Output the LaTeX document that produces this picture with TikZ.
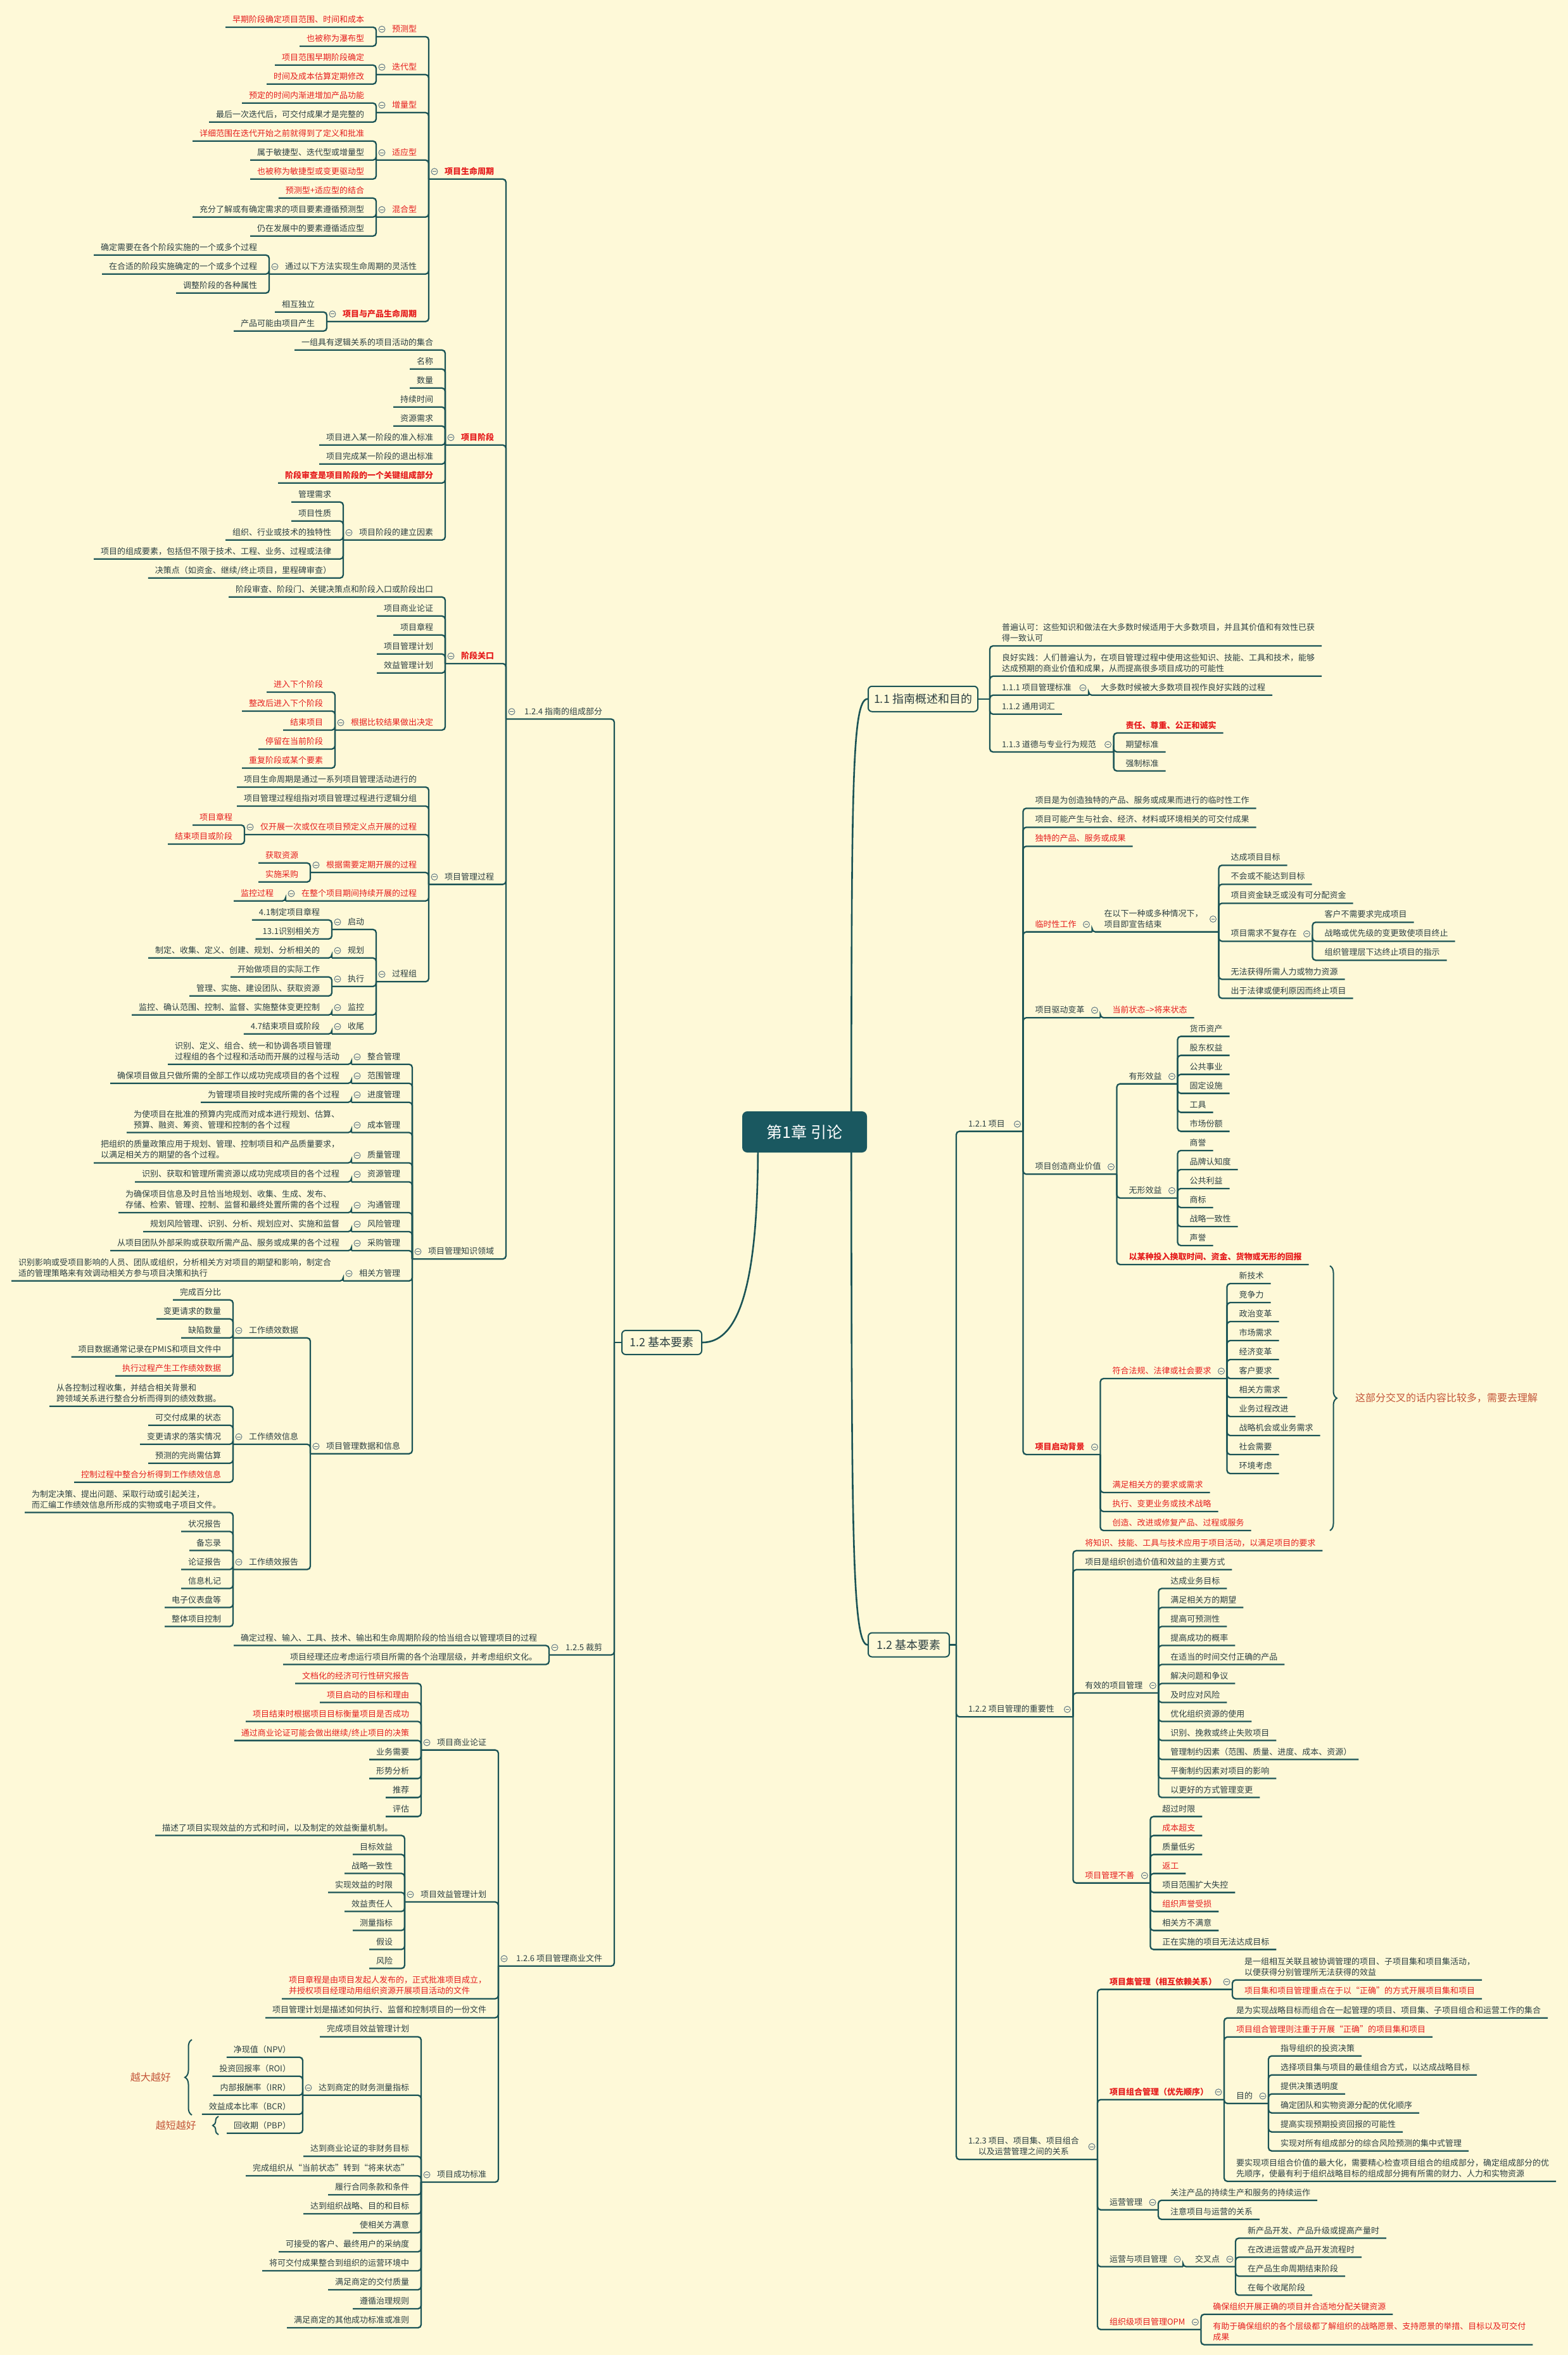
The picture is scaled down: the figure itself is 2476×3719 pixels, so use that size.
\documentclass[tikz,border=0pt]{standalone}
\usepackage{fontspec}
\setmainfont{Noto Sans CJK SC}
\usetikzlibrary{decorations.pathreplacing}
\definecolor{bgc}{RGB}{254,249,216}
\definecolor{lnc}{RGB}{27,84,86}
\definecolor{dkc}{RGB}{44,64,66}
\definecolor{rdc}{RGB}{230,30,30}
\definecolor{brc}{RGB}{196,86,58}
\definecolor{icc}{RGB}{86,112,128}
\definecolor{ctc}{RGB}{26,88,96}
\newcommand\mmst{\rule[-2.5pt]{0pt}{11pt}}
\tikzset{
 tx/.style={inner sep=0pt,outer sep=0pt,text=dkc,align=left,font=\fontsize{13}{17}\selectfont},
 rt/.style={text=rdc},
 rbt/.style={text=rdc,font=\fontsize{13}{17}\selectfont\bfseries},
 mmbar/.style={draw=lnc,line width=2.3pt,rounded corners=5pt},
 cbar/.style={draw=lnc,line width=2.6pt},
 icn/.style={draw=icc,line width=0.9pt},
 box/.style={draw=lnc,line width=2pt,rounded corners=6pt,fill=bgc,text=dkc,inner sep=0pt,font=\fontsize{18}{20}\selectfont},
 ctr/.style={fill=ctc,rounded corners=8pt,text=white,inner sep=0pt,minimum width=197pt,minimum height=65pt,font=\fontsize{25}{28}\selectfont},
 brcst/.style={draw=lnc,line width=2pt,decorate},
 brtx/.style={text=brc,inner sep=0pt,font=\fontsize{16}{18}\selectfont}
}
\newcommand\mmicon[3]{\path (#1 |- #2.center) ++(#3,0) coordinate (icp);
 \draw[icn] (icp) circle (5); \draw[icn] ([xshift=-2.6pt]icp) -- ([xshift=2.6pt]icp);}
% left leaf
\newcommand\lleaf[5]{\coordinate (ty) at (0,#3);
 \path (#2S |- ty) ++(-19,-5) node[tx,#4,anchor=south east] (#1) {#5\mmst};
 \path (#1.south west) ++(-11,5) coordinate (#1S);
 \draw[mmbar] (#2S) |- (#1S);}
% left inner
\newcommand\linner[5]{\coordinate (ty) at (0,#3);
 \path (#2S |- ty) ++(-19,-5) node[tx,#4,anchor=south east] (#1) {#5\mmst};
 \path (#1.south west) ++(-25,5) coordinate (#1S);
 \draw[mmbar] (#2S) |- (#1S);
 \mmicon{#1S}{#1}{9}}
\newcommand\linnerx[6]{\coordinate (ty) at (0,#3);
 \path (#2S |- ty) ++(-19,-5) node[tx,#4,anchor=south east] (#1) {#5\mmst};
 \coordinate (#1S) at (#6,#3);
 \draw[mmbar] (#2S) |- (#1S);
 \mmicon{#1S}{#1}{9}}
% right leaf
\newcommand\rleaf[5]{\coordinate (ty) at (0,#3);
 \path (#2S |- ty) ++(19,-5) node[tx,#4,anchor=south west] (#1) {#5\mmst};
 \path (#1.south east) ++(11,5) coordinate (#1S);
 \draw[mmbar] (#2S) |- (#1S);}
\newcommand\rinner[5]{\coordinate (ty) at (0,#3);
 \path (#2S |- ty) ++(19,-5) node[tx,#4,anchor=south west] (#1) {#5\mmst};
 \path (#1.south east) ++(25,5) coordinate (#1S);
 \draw[mmbar] (#2S) |- (#1S);
 \mmicon{#1S}{#1}{-9}}
\newcommand\rinnerx[6]{\coordinate (ty) at (0,#3);
 \path (#2S |- ty) ++(19,-5) node[tx,#4,anchor=south west] (#1) {#5\mmst};
 \coordinate (#1S) at (#6,#3);
 \draw[mmbar] (#2S) |- (#1S);
 \mmicon{#1S}{#1}{-9}}
\begin{document}
\begin{tikzpicture}[x=1pt,y=-1pt]
\useasboundingbox (0,0) rectangle (2476,3719);
\fill[bgc] (0,0) rectangle (2476,3719);

% ---------- central and boxes ----------
\node[ctr] (cen) at (1270.5,1787.5) {第1章 引论};
\node[box,minimum width=173pt,minimum height=40pt] (g) at (1457.5,1103.75) {1.1 指南概述和目的};
\node[box,minimum width=128pt,minimum height=38pt] (rr) at (1435,2597.5) {1.2 基本要素};
\node[box,minimum width=126pt,minimum height=38pt] (ll) at (1045,2120) {1.2 基本要素};
\coordinate (gS) at (1563,1103.75);
\coordinate (rrS) at (1510,2597.5);
\coordinate (llS) at (970,2120);
\draw[mmbar] (g.east) -- (gS);
\draw[mmbar] (rr.east) -- (rrS);
\draw[mmbar] (ll.west) -- (llS);
\draw[cbar] ([xshift=-25pt]cen.north east) .. controls (1345,1250) and (1345,1103.75) .. (g.west);
\draw[cbar] ([xshift=-25pt]cen.south east) .. controls (1345,2400) and (1345,2597.5) .. (rr.west);
\draw[cbar] ([xshift=25pt]cen.south west) .. controls (1196,2050) and (1160,2120) .. (ll.east);

% ---------- LEFT : 1.2.4 ----------
\linnerx{a}{ll}{1135.5}{}{1.2.4 指南的组成部分}{799}
\linner{aa}{a}{282.8}{rbt}{项目生命周期}
 \linner{aaa}{aa}{57.9}{rt}{预测型}
  \lleaf{aaa1}{aaa}{42.9}{rt}{早期阶段确定项目范围、时间和成本}
  \lleaf{aaa2}{aaa}{72.9}{rt}{也被称为瀑布型}
 \linner{aab}{aa}{117.8}{rt}{迭代型}
  \lleaf{aab1}{aab}{102.8}{rt}{项目范围早期阶段确定}
  \lleaf{aab2}{aab}{132.8}{rt}{时间及成本估算定期修改}
 \linner{aac}{aa}{177.8}{rt}{增量型}
  \lleaf{aac1}{aac}{162.8}{rt}{预定的时间内渐进增加产品功能}
  \lleaf{aac2}{aac}{192.8}{}{最后一次迭代后，可交付成果才是完整的}
 \linner{aad}{aa}{252.8}{rt}{适应型}
  \lleaf{aad1}{aad}{222.8}{rt}{详细范围在迭代开始之前就得到了定义和批准}
  \lleaf{aad2}{aad}{252.8}{}{属于敏捷型、迭代型或增量型}
  \lleaf{aad3}{aad}{282.8}{rt}{也被称为敏捷型或变更驱动型}
 \linner{aae}{aa}{342.8}{rt}{混合型}
  \lleaf{aae1}{aae}{312.8}{rt}{预测型+适应型的结合}
  \lleaf{aae2}{aae}{342.8}{}{充分了解或有确定需求的项目要素遵循预测型}
  \lleaf{aae3}{aae}{372.8}{}{仍在发展中的要素遵循适应型}
 \linner{aaf}{aa}{432.8}{}{通过以下方法实现生命周期的灵活性}
  \lleaf{aaf1}{aaf}{402.8}{}{确定需要在各个阶段实施的一个或多个过程}
  \lleaf{aaf2}{aaf}{432.8}{}{在合适的阶段实施确定的一个或多个过程}
  \lleaf{aaf3}{aaf}{462.8}{}{调整阶段的各种属性}
 \linner{aag}{aa}{507.8}{rbt}{项目与产品生命周期}
  \lleaf{aag1}{aag}{492.8}{}{相互独立}
  \lleaf{aag2}{aag}{522.8}{}{产品可能由项目产生}
\linner{ab}{a}{702.8}{rbt}{项目阶段}
 \lleaf{aba}{ab}{552.8}{}{一组具有逻辑关系的项目活动的集合}
 \lleaf{abb}{ab}{582.8}{}{名称}
 \lleaf{abc}{ab}{612.8}{}{数量}
 \lleaf{abd}{ab}{642.8}{}{持续时间}
 \lleaf{abe}{ab}{672.8}{}{资源需求}
 \lleaf{abf}{ab}{702.8}{}{项目进入某一阶段的准入标准}
 \lleaf{abg}{ab}{732.8}{}{项目完成某一阶段的退出标准}
 \lleaf{abh}{ab}{762.8}{rbt}{阶段审查是项目阶段的一个关键组成部分}
 \linner{abi}{ab}{852.8}{}{项目阶段的建立因素}
  \lleaf{abi1}{abi}{792.8}{}{管理需求}
  \lleaf{abi2}{abi}{822.8}{}{项目性质}
  \lleaf{abi3}{abi}{852.8}{}{组织、行业或技术的独特性}
  \lleaf{abi4}{abi}{882.8}{}{项目的组成要素，包括但不限于技术、工程、业务、过程或法律}
  \lleaf{abi5}{abi}{912.8}{}{决策点（如资金、继续/终止项目，里程碑审查）}
\linner{ac}{a}{1047.9}{rbt}{阶段关口}
 \lleaf{aca}{ac}{942.8}{}{阶段审查、阶段门、关键决策点和阶段入口或阶段出口}
 \lleaf{acb}{ac}{972.8}{}{项目商业论证}
 \lleaf{acc}{ac}{1002.8}{}{项目章程}
 \lleaf{acd}{ac}{1032.8}{}{项目管理计划}
 \lleaf{ace}{ac}{1062.8}{}{效益管理计划}
 \linner{acf}{ac}{1152.9}{rt}{根据比较结果做出决定}
  \lleaf{acf1}{acf}{1092.9}{rt}{进入下个阶段}
  \lleaf{acf2}{acf}{1122.9}{rt}{整改后进入下个阶段}
  \lleaf{acf3}{acf}{1152.9}{rt}{结束项目}
  \lleaf{acf4}{acf}{1182.9}{rt}{停留在当前阶段}
  \lleaf{acf5}{acf}{1212.9}{rt}{重复阶段或某个要素}
\linner{ad}{a}{1396.6}{}{项目管理过程}
 \lleaf{ada}{ad}{1242.9}{}{项目生命周期是通过一系列项目管理活动进行的}
 \lleaf{adb}{ad}{1272.9}{}{项目管理过程组指对项目管理过程进行逻辑分组}
 \linner{adc}{ad}{1317.9}{rt}{仅开展一次或仅在项目预定义点开展的过程}
  \lleaf{adc1}{adc}{1302.9}{rt}{项目章程}
  \lleaf{adc2}{adc}{1332.9}{rt}{结束项目或阶段}
 \linner{add}{ad}{1377.8}{rt}{根据需要定期开展的过程}
  \lleaf{add1}{add}{1362.8}{rt}{获取资源}
  \lleaf{add2}{add}{1392.8}{rt}{实施采购}
 \linner{ade}{ad}{1422.8}{rt}{在整个项目期间持续开展的过程}
  \lleaf{ade1}{ade}{1422.8}{rt}{监控过程}
 \linner{adf}{ad}{1550.3}{}{过程组}
  \linner{adf1}{adf}{1467.8}{}{启动}
   \lleaf{adf1a}{adf1}{1452.8}{}{4.1制定项目章程}
   \lleaf{adf1b}{adf1}{1482.8}{}{13.1识别相关方}
  \linner{adf2}{adf}{1512.8}{}{规划}
   \lleaf{adf2a}{adf2}{1512.8}{}{制定、收集、定义、创建、规划、分析相关的}
  \linner{adf3}{adf}{1557.8}{}{执行}
   \lleaf{adf3a}{adf3}{1542.8}{}{开始做项目的实际工作}
   \lleaf{adf3b}{adf3}{1572.8}{}{管理、实施、建设团队、获取资源}
  \linner{adf4}{adf}{1602.8}{}{监控}
   \lleaf{adf4a}{adf4}{1602.8}{}{监控、确认范围、控制、监督、实施整体变更控制}
  \linner{adf5}{adf}{1632.8}{}{收尾}
   \lleaf{adf5a}{adf5}{1632.8}{}{4.7结束项目或阶段}
\linner{ae}{a}{1988.2}{}{项目管理知识领域}
 \linner{aea}{ae}{1680.7}{}{整合管理}
  \lleaf{aea1}{aea}{1680.7}{}{识别、定义、组合、统一和协调各项目管理\\过程组的各个过程和活动而开展的过程与活动}
 \linner{aeb}{ae}{1710.7}{}{范围管理}
  \lleaf{aeb1}{aeb}{1710.7}{}{确保项目做且只做所需的全部工作以成功完成项目的各个过程}
 \linner{aec}{ae}{1740.7}{}{进度管理}
  \lleaf{aec1}{aec}{1740.7}{}{为管理项目按时完成所需的各个过程}
 \linner{aed}{ae}{1788.5}{}{成本管理}
  \lleaf{aed1}{aed}{1788.5}{}{为使项目在批准的预算内完成而对成本进行规划、估算、\\预算、融资、筹资、管理和控制的各个过程}
 \linner{aee}{ae}{1836.4}{}{质量管理}
  \lleaf{aee1}{aee}{1836.4}{}{把组织的质量政策应用于规划、管理、控制项目和产品质量要求，\\以满足相关方的期望的各个过程。}
 \linner{aef}{ae}{1866.4}{}{资源管理}
  \lleaf{aef1}{aef}{1866.4}{}{识别、获取和管理所需资源以成功完成项目的各个过程}
 \linner{aeg}{ae}{1915}{}{沟通管理}
  \lleaf{aeg1}{aeg}{1915}{}{为确保项目信息及时且恰当地规划、收集、生成、发布、\\存储、检索、管理、控制、监督和最终处置所需的各个过程}
 \linner{aeh}{ae}{1945}{}{风险管理}
  \lleaf{aeh1}{aeh}{1945}{}{规划风险管理、识别、分析、规划应对、实施和监督}
 \linner{aei}{ae}{1975}{}{采购管理}
  \lleaf{aei1}{aei}{1975}{}{从项目团队外部采购或获取所需产品、服务或成果的各个过程}
 \linner{aej}{ae}{2022.8}{}{相关方管理}
  \lleaf{aej1}{aej}{2022.8}{}{识别影响或受项目影响的人员、团队或组织，分析相关方对项目的期望和影响，制定合\\适的管理策略来有效调动相关方参与项目决策和执行}
 \linner{aek}{ae}{2295.7}{}{项目管理数据和信息}
  \linner{aek1}{aek}{2112.8}{}{工作绩效数据}
   \lleaf{aek1a}{aek1}{2052.8}{}{完成百分比}
   \lleaf{aek1b}{aek1}{2082.8}{}{变更请求的数量}
   \lleaf{aek1c}{aek1}{2112.8}{}{缺陷数量}
   \lleaf{aek1d}{aek1}{2142.8}{}{项目数据通常记录在PMIS和项目文件中}
   \lleaf{aek1e}{aek1}{2172.8}{rt}{执行过程产生工作绩效数据}
  \linner{aek2}{aek}{2280.7}{}{工作绩效信息}
   \lleaf{aek2a}{aek2}{2220.7}{}{从各控制过程收集，并结合相关背景和\\跨领域关系进行整合分析而得到的绩效数据。}
   \lleaf{aek2b}{aek2}{2250.7}{}{可交付成果的状态}
   \lleaf{aek2c}{aek2}{2280.7}{}{变更请求的落实情况}
   \lleaf{aek2d}{aek2}{2310.7}{}{预测的完尚需估算}
   \lleaf{aek2e}{aek2}{2340.7}{rt}{控制过程中整合分析得到工作绩效信息}
  \linner{aek3}{aek}{2478.5}{}{工作绩效报告}
   \lleaf{aek3a}{aek3}{2388.5}{}{为制定决策、提出问题、采取行动或引起关注，\\而汇编工作绩效信息所形成的实物或电子项目文件。}
   \lleaf{aek3b}{aek3}{2418.5}{}{状况报告}
   \lleaf{aek3c}{aek3}{2448.5}{}{备忘录}
   \lleaf{aek3d}{aek3}{2478.5}{}{论证报告}
   \lleaf{aek3e}{aek3}{2508.5}{}{信息札记}
   \lleaf{aek3f}{aek3}{2538.5}{}{电子仪表盘等}
   \lleaf{aek3g}{aek3}{2568.5}{}{整体项目控制}

% ---------- LEFT : 1.2.5 ----------
\linnerx{b}{ll}{2613.5}{}{1.2.5 裁剪}{867}
 \lleaf{ba}{b}{2598.5}{}{确定过程、输入、工具、技术、输出和生命周期阶段的恰当组合以管理项目的过程}
 \lleaf{bb}{b}{2628.5}{}{项目经理还应考虑运行项目所需的各个治理层级，并考虑组织文化。}

% ---------- LEFT : 1.2.6 ----------
\linnerx{c}{ll}{3104.8}{}{1.2.6 项目管理商业文件}{787}
\linner{ca}{c}{2763.6}{}{项目商业论证}
 \lleaf{ca1}{ca}{2658.5}{rt}{文档化的经济可行性研究报告}
 \lleaf{ca2}{ca}{2688.5}{rt}{项目启动的目标和理由}
 \lleaf{ca3}{ca}{2718.5}{rt}{项目结束时根据项目目标衡量项目是否成功}
 \lleaf{ca4}{ca}{2748.6}{rt}{通过商业论证可能会做出继续/终止项目的决策}
 \lleaf{ca5}{ca}{2778.6}{}{业务需要}
 \lleaf{ca6}{ca}{2808.6}{}{形势分析}
 \lleaf{ca7}{ca}{2838.6}{}{推荐}
 \lleaf{ca8}{ca}{2868.6}{}{评估}
\linner{cb}{c}{3003.5}{}{项目效益管理计划}
 \lleaf{cb1}{cb}{2898.5}{}{描述了项目实现效益的方式和时间，以及制定的效益衡量机制。}
 \lleaf{cb2}{cb}{2928.5}{}{目标效益}
 \lleaf{cb3}{cb}{2958.5}{}{战略一致性}
 \lleaf{cb4}{cb}{2988.5}{}{实现效益的时限}
 \lleaf{cb5}{cb}{3018.5}{}{效益责任人}
 \lleaf{cb6}{cb}{3048.5}{}{测量指标}
 \lleaf{cb7}{cb}{3078.5}{}{假设}
 \lleaf{cb8}{cb}{3108.5}{}{风险}
\lleaf{cc}{c}{3156.4}{rt}{项目章程是由项目发起人发布的，正式批准项目成立，\\并授权项目经理动用组织资源开展项目活动的文件}
\lleaf{cd}{c}{3186.4}{}{项目管理计划是描述如何执行、监督和控制项目的一份文件}
\linner{ce}{c}{3446}{}{项目成功标准}
 \lleaf{cea}{ce}{3216.4}{}{完成项目效益管理计划}
 \linner{ceb}{ce}{3308.7}{}{达到商定的财务测量指标}
  \lleaf{ceb1}{ceb}{3248.7}{}{净现值（NPV）}
  \lleaf{ceb2}{ceb}{3278.7}{}{投资回报率（ROI）}
  \lleaf{ceb3}{ceb}{3308.7}{}{内部报酬率（IRR）}
  \lleaf{ceb4}{ceb}{3338.7}{}{效益成本比率（BCR）}
  \lleaf{ceb5}{ceb}{3368.7}{}{回收期（PBP）}
 \lleaf{cec}{ce}{3405.3}{}{达到商业论证的非财务目标}
 \lleaf{ced}{ce}{3436}{}{完成组织从“当前状态”转到“将来状态”}
 \lleaf{cee}{ce}{3466}{}{履行合同条款和条件}
 \lleaf{cef}{ce}{3496}{}{达到组织战略、目的和目标}
 \lleaf{ceg}{ce}{3526}{}{使相关方满意}
 \lleaf{ceh}{ce}{3556}{}{可接受的客户、最终用户的采纳度}
 \lleaf{cei}{ce}{3586}{}{将可交付成果整合到组织的运营环境中}
 \lleaf{cej}{ce}{3616}{}{满足商定的交付质量}
 \lleaf{cek}{ce}{3646}{}{遵循治理规则}
 \lleaf{cel}{ce}{3676}{}{满足商定的其他成功标准或准则}
\draw[brcst,decoration={brace,amplitude=11pt}] (303,3340) -- (303,3221);
\node[brtx,anchor=east] (big) at (270,3280) {越大越好};
\draw[brcst,decoration={brace,amplitude=9pt}] (345,3371) -- (345,3342);
\node[brtx,anchor=east] (short) at (310,3356) {越短越好};

% ---------- RIGHT : 1.1 ----------
\rleaf{ga}{g}{1020}{}{普遍认可：这些知识和做法在大多数时候适用于大多数项目，并且其价值和有效性已获\\得一致认可}
\rleaf{gb}{g}{1067.8}{}{良好实践：人们普遍认为，在项目管理过程中使用这些知识、技能、工具和技术，能够\\达成预期的商业价值和成果，从而提高很多项目成功的可能性}
\rinnerx{gc}{g}{1097.8}{}{1.1.1 项目管理标准}{1719}
 \rleaf{gc1}{gc}{1097.8}{}{大多数时候被大多数项目视作良好实践的过程}
\rleaf{gd}{g}{1127.8}{}{1.1.2 通用词汇}
\rinnerx{ge}{g}{1187.5}{}{1.1.3 道德与专业行为规范}{1758.6}
 \rleaf{ge1}{ge}{1157.5}{rbt}{责任、尊重、公正和诚实}
 \rleaf{ge2}{ge}{1187.5}{}{期望标准}
 \rleaf{ge3}{ge}{1217.5}{}{强制标准}

% ---------- RIGHT : 1.2.1 ----------
\rinnerx{d}{rr}{1786.6}{}{1.2.1 项目}{1615.5}
\rleaf{da}{d}{1276.4}{}{项目是为创造独特的产品、服务或成果而进行的临时性工作}
\rleaf{db}{d}{1306.4}{}{项目可能产生与社会、经济、材料或环境相关的可交付成果}
\rleaf{dc}{d}{1336.4}{rt}{独特的产品、服务或成果}
\rinner{dd}{d}{1471.6}{rt}{临时性工作}
 \rinner{dda}{dd}{1471.6}{}{在以下一种或多种情况下，\\项目即宣告结束}
  \rleaf{dda1}{dda}{1366.4}{}{达成项目目标}
  \rleaf{dda2}{dda}{1396.4}{}{不会或不能达到目标}
  \rleaf{dda3}{dda}{1426.4}{}{项目资金缺乏或没有可分配资金}
  \rinner{dda4}{dda}{1486.4}{}{项目需求不复存在}
   \rleaf{dda4a}{dda4}{1456.4}{}{客户不需要求完成项目}
   \rleaf{dda4b}{dda4}{1486.4}{}{战略或优先级的变更致使项目终止}
   \rleaf{dda4c}{dda4}{1516.4}{}{组织管理层下达终止项目的指示}
  \rleaf{dda5}{dda}{1546.5}{}{无法获得所需人力或物力资源}
  \rleaf{dda6}{dda}{1576.5}{}{出于法律或便利原因而终止项目}
\rinner{de}{d}{1607.2}{}{项目驱动变革}
 \rleaf{de1}{de}{1607.2}{rt}{当前状态-->将来状态}
\rinner{df}{d}{1854.3}{}{项目创造商业价值}
 \rinner{dfa}{df}{1711.6}{}{有形效益}
  \rleaf{dfa1}{dfa}{1636.6}{}{货币资产}
  \rleaf{dfa2}{dfa}{1666.6}{}{股东权益}
  \rleaf{dfa3}{dfa}{1696.6}{}{公共事业}
  \rleaf{dfa4}{dfa}{1726.6}{}{固定设施}
  \rleaf{dfa5}{dfa}{1756.6}{}{工具}
  \rleaf{dfa6}{dfa}{1786.6}{}{市场份额}
 \rinner{dfb}{df}{1891.9}{}{无形效益}
  \rleaf{dfb1}{dfb}{1816.9}{}{商誉}
  \rleaf{dfb2}{dfb}{1846.9}{}{品牌认知度}
  \rleaf{dfb3}{dfb}{1876.9}{}{公共利益}
  \rleaf{dfb4}{dfb}{1906.9}{}{商标}
  \rleaf{dfb5}{dfb}{1936.9}{}{战略一致性}
  \rleaf{dfb6}{dfb}{1966.9}{}{声誉}
 \rleaf{dfc}{df}{1996.9}{rbt}{以某种投入换取时间、资金、货物或无形的回报}
\rinner{dg}{d}{2296.9}{rbt}{项目启动背景}
 \rinner{dga}{dg}{2177}{rt}{符合法规、法律或社会要求}
  \rleaf{dga1}{dga}{2027}{}{新技术}
  \rleaf{dga2}{dga}{2057}{}{竞争力}
  \rleaf{dga3}{dga}{2087}{}{政治变革}
  \rleaf{dga4}{dga}{2117}{}{市场需求}
  \rleaf{dga5}{dga}{2147}{}{经济变革}
  \rleaf{dga6}{dga}{2177}{}{客户要求}
  \rleaf{dga7}{dga}{2207}{}{相关方需求}
  \rleaf{dga8}{dga}{2237}{}{业务过程改进}
  \rleaf{dga9}{dga}{2267}{}{战略机会或业务需求}
  \rleaf{dga10}{dga}{2297}{}{社会需要}
  \rleaf{dga11}{dga}{2327}{}{环境考虑}
 \rleaf{dgb}{dg}{2357}{rt}{满足相关方的要求或需求}
 \rleaf{dgc}{dg}{2387}{rt}{执行、变更业务或技术战略}
 \rleaf{dgd}{dg}{2417}{rt}{创造、改进或修复产品、过程或服务}
\draw[brcst,decoration={brace,amplitude=11pt}] (2100,1999) -- (2100,2417);
\node[brtx,anchor=west] (note) at (2140,2208) {这部分交叉的话内容比较多，需要去理解};

% ---------- RIGHT : 1.2.2 ----------
\rinnerx{e}{rr}{2711.2}{}{1.2.2 项目管理的重要性}{1694.4}
\rleaf{ea}{e}{2448.8}{rt}{将知识、技能、工具与技术应用于项目活动，以满足项目的要求}
\rleaf{eb}{e}{2478.8}{}{项目是组织创造价值和效益的主要方式}
\rinner{ec}{e}{2673.5}{}{有效的项目管理}
 \rleaf{ec1}{ec}{2508.5}{}{达成业务目标}
 \rleaf{ec2}{ec}{2538.5}{}{满足相关方的期望}
 \rleaf{ec3}{ec}{2568.5}{}{提高可预测性}
 \rleaf{ec4}{ec}{2598.5}{}{提高成功的概率}
 \rleaf{ec5}{ec}{2628.5}{}{在适当的时间交付正确的产品}
 \rleaf{ec6}{ec}{2658.5}{}{解决问题和争议}
 \rleaf{ec7}{ec}{2688.5}{}{及时应对风险}
 \rleaf{ec8}{ec}{2718.5}{}{优化组织资源的使用}
 \rleaf{ec9}{ec}{2748.5}{}{识别、挽救或终止失败项目}
 \rleaf{ec10}{ec}{2778.5}{}{管理制约因素（范围、质量、进度、成本、资源）}
 \rleaf{ec11}{ec}{2808.5}{}{平衡制约因素对项目的影响}
 \rleaf{ec12}{ec}{2838.5}{}{以更好的方式管理变更}
\rinner{ed}{e}{2973.6}{rt}{项目管理不善}
 \rleaf{ed1}{ed}{2868.6}{}{超过时限}
 \rleaf{ed2}{ed}{2898.6}{rt}{成本超支}
 \rleaf{ed3}{ed}{2928.6}{}{质量低劣}
 \rleaf{ed4}{ed}{2958.6}{rt}{返工}
 \rleaf{ed5}{ed}{2988.6}{}{项目范围扩大失控}
 \rleaf{ed6}{ed}{3018.6}{rt}{组织声誉受损}
 \rleaf{ed7}{ed}{3048.6}{}{相关方不满意}
 \rleaf{ed8}{ed}{3078.6}{}{正在实施的项目无法达成目标}

% ---------- RIGHT : 1.2.3 ----------
\rinnerx{f}{rr}{3410.2}{align=center}{1.2.3 项目、项目集、项目组合\\以及运营管理之间的关系}{1733}
\rinner{fa}{f}{3141.6}{rbt}{项目集管理（相互依赖关系）}
 \rleaf{fa1}{fa}{3126.8}{}{是一组相互关联且被协调管理的项目、子项目集和项目集活动，\\以便获得分别管理所无法获得的效益}
 \rleaf{fa2}{fa}{3156.4}{rt}{项目集和项目管理重点在于以“正确”的方式开展项目集和项目}
\rinner{fb}{f}{3315.7}{rbt}{项目组合管理（优先顺序）}
 \rleaf{fb1}{fb}{3186.7}{}{是为实现战略目标而组合在一起管理的项目、项目集、子项目组合和运营工作的集合}
 \rleaf{fb2}{fb}{3216.7}{rt}{项目组合管理则注重于开展“正确”的项目集和项目}
 \rinner{fb3}{fb}{3321.7}{}{目的}
  \rleaf{fb3a}{fb3}{3246.7}{}{指导组织的投资决策}
  \rleaf{fb3b}{fb3}{3276.7}{}{选择项目集与项目的最佳组合方式，以达成战略目标}
  \rleaf{fb3c}{fb3}{3306.7}{}{提供决策透明度}
  \rleaf{fb3d}{fb3}{3336.7}{}{确定团队和实物资源分配的优化顺序}
  \rleaf{fb3e}{fb3}{3366.7}{}{提高实现预期投资回报的可能性}
  \rleaf{fb3f}{fb3}{3396.7}{}{实现对所有组成部分的综合风险预测的集中式管理}
 \rleaf{fb4}{fb}{3444.7}{}{要实现项目组合价值的最大化，需要精心检查项目组合的组成部分，确定组成部分的优\\先顺序，使最有利于组织战略目标的组成部分拥有所需的财力、人力和实物资源}
\rinner{fc}{f}{3489.7}{}{运营管理}
 \rleaf{fc1}{fc}{3474.7}{}{关注产品的持续生产和服务的持续运作}
 \rleaf{fc2}{fc}{3504.7}{}{注意项目与运营的关系}
\rinner{fd}{f}{3579.5}{}{运营与项目管理}
 \rinner{fd1}{fd}{3579.5}{}{交叉点}
  \rleaf{fd1a}{fd1}{3534.5}{}{新产品开发、产品升级或提高产量时}
  \rleaf{fd1b}{fd1}{3564.5}{}{在改进运营或产品开发流程时}
  \rleaf{fd1c}{fd1}{3594.5}{}{在产品生命周期结束阶段}
  \rleaf{fd1d}{fd1}{3624.5}{}{在每个收尾阶段}
\rinner{fe}{f}{3678.7}{rt}{组织级项目管理OPM}
 \rleaf{fe1}{fe}{3654.7}{rt}{确保组织开展正确的项目并合适地分配关键资源}
 \rleaf{fe2}{fe}{3702.7}{rt}{有助于确保组织的各个层级都了解组织的战略愿景、支持愿景的举措、目标以及可交付\\成果}
\end{tikzpicture}
\end{document}
